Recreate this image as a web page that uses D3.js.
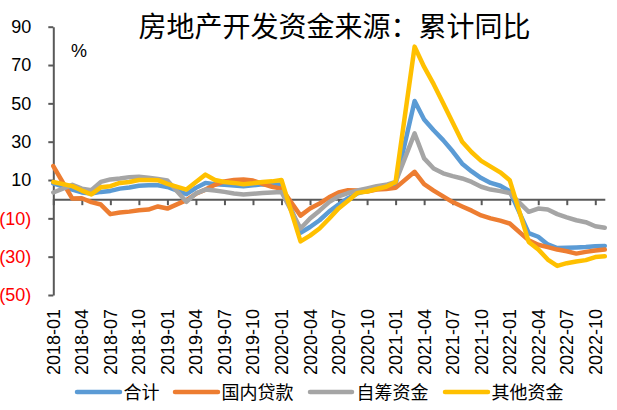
<!DOCTYPE html>
<html>
<head>
<meta charset="utf-8">
<script src="https://cdn.jsdelivr.net/npm/d3@7"></script>
<style>
  html, body { margin: 0; padding: 0; background: #fff; }
  svg { display: block; }
</style>
</head>
<body>
<svg id="chart" width="617" height="410"></svg>
<script>
const title = "房地产开发资金来源：累计同比";
const unitLabel = "%";

const months = [
  "2018-01","2018-02","2018-03","2018-04","2018-05","2018-06","2018-07","2018-08","2018-09","2018-10","2018-11","2018-12",
  "2019-01","2019-02","2019-03","2019-04","2019-05","2019-06","2019-07","2019-08","2019-09","2019-10","2019-11","2019-12",
  "2020-01","2020-02","2020-03","2020-04","2020-05","2020-06","2020-07","2020-08","2020-09","2020-10","2020-11","2020-12",
  "2021-01","2021-02","2021-03","2021-04","2021-05","2021-06","2021-07","2021-08","2021-09","2021-10","2021-11","2021-12",
  "2022-01","2022-02","2022-03","2022-04","2022-05","2022-06","2022-07","2022-08","2022-09","2022-10","2022-11"
];

const seriesNames = ["合计", "国内贷款", "自筹资金", "其他资金"];

const totalFunds = [
  8.2, null, 5.0, 3.5, 3.0, 3.8, 4.3, 5.5, 6.1, 7.0, 7.3, 7.3,
  6.4, null, 2.6, 5.9, 8.5, 7.8, 7.5, 7.2, 6.8, 7.2, 7.8, 7.5,
  7.6, null, -17.5, -14.5, -11.0, -6.5, -2.8, 0.5, 3.0, 4.4, 5.5, 6.4,
  8.1, null, 51.2, 41.6, 36.0, 30.8, 25.0, 18.5, 14.5, 11.0, 8.5, 7.0,
  4.2, null, -17.7, -19.6, -23.6, -25.5, -25.3, -25.2, -25.0, -24.6, -24.4
];

const domesticLoans = [
  17.3, null, 0.3, 0.5, -1.5, -2.8, -7.8, -7.0, -6.5, -5.8, -5.4, -3.8,
  -4.9, null, -0.5, 2.8, 5.0, 7.5, 9.3, 10.0, 10.3, 9.7, 8.0, 6.5,
  5.5, null, -8.6, -4.9, -2.3, 1.0, 3.5, 4.7, 4.5, 4.0, 5.0, 5.3,
  5.9, null, 14.3, 7.8, 4.5, 1.5, -1.5, -3.8, -6.0, -8.5, -10.0, -11.2,
  -12.7, null, -21.5, -23.8, -25.0, -26.3, -27.2, -28.4, -27.5, -26.8, -26.3
];

const selfRaised = [
  3.5, null, 7.5, 5.5, 4.7, 9.0, 10.3, 10.8, 11.5, 11.7, 11.2, 10.5,
  9.7, null, -1.4, 3.0, 5.0, 4.5, 3.8, 3.0, 2.5, 2.8, 3.2, 3.5,
  3.8, null, -15.3, -10.1, -6.0, -1.5, 1.5, 3.2, 4.5, 5.6, 6.8, 7.5,
  9.0, null, 34.3, 21.3, 16.0, 13.5, 12.0, 10.8, 9.0, 6.5, 5.0, 4.2,
  3.2, null, -6.6, -4.9, -5.4, -7.8, -9.5, -11.0, -12.0, -14.1, -14.9
];

const otherFunds = [
  9.0, null, 6.8, 4.5, 2.5, 6.2, 6.8, 8.5, 9.0, 10.0, 10.0, 9.9,
  8.0, null, 5.0, 9.0, 12.8, 10.0, 9.0, 8.5, 7.8, 8.3, 9.0, 9.3,
  10.0, null, -22.0, -19.0, -15.3, -10.2, -4.8, -0.8, 3.3, 4.0, 5.3, 6.5,
  9.0, null, 79.6, 69.0, 60.0, 50.0, 40.0, 30.0, 24.5, 20.0, 17.0, 14.0,
  9.9, null, -22.3, -26.2, -31.5, -34.8, -33.4, -32.5, -31.8, -30.2, -29.8
];

const yTicks = [-50, -30, -10, 10, 30, 50, 70, 90];
const xTickLabels = months.filter((m, i) => i % 3 === 0);

// ---------- drawing ----------
const colors = ["#5B9BD5", "#ED7D31", "#A5A5A5", "#FFC000"];
const seriesValues = [totalFunds, domesticLoans, selfRaised, otherFunds];
const LATIN = "'Liberation Sans', Arial, sans-serif";
const CJK = "'Noto Sans CJK SC', 'Noto Sans', sans-serif";
const AXIS_COLOR = "#595959";

const svg = d3.select("#chart");

const x = d3.scalePoint().domain(months).range([53.3, 604.8]).padding(0);
const y = d3.scaleLinear().domain([-50, 90]).range([295, 26.7]);

// Title
svg.append("text")
  .attr("x", 334.5).attr("y", 37)
  .attr("text-anchor", "middle")
  .attr("font-family", CJK)
  .attr("font-size", 28)
  .attr("fill", "#000")
  .text(title);

// Unit label
svg.append("text")
  .attr("x", 71).attr("y", 57)
  .attr("font-family", LATIN)
  .attr("font-size", 18)
  .attr("fill", "#000")
  .text(unitLabel);

// Y axis
const yAxis = d3.axisLeft(y)
  .tickValues(yTicks)
  .tickSize(5)
  .tickSizeOuter(0)
  .tickPadding(17)
  .tickFormat(d => d < 0 ? "(" + Math.abs(d) + ")" : String(d));

const gy = svg.append("g")
  .attr("transform", `translate(${x(months[0])},0)`)
  .call(yAxis);
gy.select(".domain").attr("stroke", AXIS_COLOR).attr("stroke-width", 2);
gy.selectAll(".tick line").attr("stroke", AXIS_COLOR).attr("stroke-width", 2);
gy.selectAll(".tick text")
  .attr("font-family", LATIN)
  .attr("font-size", 18)
  .attr("fill", d => d < 0 ? "#FF0000" : "#000");

// X axis at zero
const xAxis = d3.axisBottom(x)
  .tickValues(xTickLabels)
  .tickSize(6)
  .tickSizeOuter(0)
  .tickFormat("");
const gx = svg.append("g")
  .attr("transform", `translate(0,${y(0)})`)
  .call(xAxis);
gx.select(".domain").attr("stroke", AXIS_COLOR).attr("stroke-width", 2);
gx.selectAll(".tick line").attr("stroke", AXIS_COLOR).attr("stroke-width", 2);

// X labels (rotated) below the plot
svg.append("g").selectAll("text")
  .data(xTickLabels)
  .join("text")
  .attr("transform", d => `translate(${x(d) + 6.5},309) rotate(-90)`)
  .attr("text-anchor", "end")
  .attr("font-family", LATIN)
  .attr("font-size", 18)
  .attr("fill", "#000")
  .text(d => d);

// Lines
const line = d3.line()
  .x(d => x(d.m))
  .y(d => y(d.v));

seriesValues.forEach((vals, si) => {
  const pts = months.map((m, i) => ({ m, v: vals[i] })).filter(d => d.v !== null);
  svg.append("path")
    .datum(pts)
    .attr("fill", "none")
    .attr("stroke", colors[si])
    .attr("stroke-width", 4.5)
    .attr("stroke-linejoin", "round")
    .attr("stroke-linecap", "round")
    .attr("d", line);
});

// Legend
const legendItems = [
  { x1: 77, x2: 120, tx: 123.5 },
  { x1: 175, x2: 218, tx: 221.5 },
  { x1: 310, x2: 352, tx: 356.5 },
  { x1: 445, x2: 488, tx: 491.5 }
];
const lg = svg.append("g");
seriesNames.forEach((name, i) => {
  const it = legendItems[i];
  lg.append("line")
    .attr("x1", it.x1).attr("x2", it.x2)
    .attr("y1", 392).attr("y2", 392)
    .attr("stroke", colors[i])
    .attr("stroke-width", 4.5)
    .attr("stroke-linecap", "round");
  lg.append("text")
    .attr("x", it.tx).attr("y", 399)
    .attr("font-family", CJK)
    .attr("font-size", 18)
    .attr("fill", "#000")
    .text(name);
});
</script>
</body>
</html>
